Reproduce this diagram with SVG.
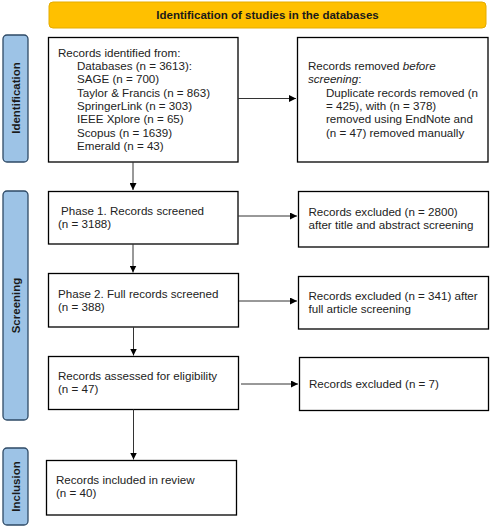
<svg xmlns="http://www.w3.org/2000/svg" width="491" height="527" viewBox="0 0 491 527">
<style>
.box{fill:#fff;stroke:#000;stroke-width:1.3}
.side{fill:#9DC3E6;stroke:#2E4A66;stroke-width:1.3}
.t{font-family:"Liberation Sans",Arial,sans-serif;font-size:11.6px;fill:#222}
.st{font-family:"Liberation Sans",Arial,sans-serif;font-size:11.5px;font-weight:bold;fill:#1a1a1a}
.conn{stroke:#333;stroke-width:1;fill:none;marker-end:url(#ah)}
</style>
<defs>
<marker id="ah" viewBox="0 0 10 10" refX="10" refY="5" markerWidth="7" markerHeight="7" markerUnits="userSpaceOnUse" orient="auto">
<path d="M0,0 L10,5 L0,10 z" fill="#000"/>
</marker>
</defs>
<rect width="491" height="527" fill="#fff"/>
<g id="banner">
<rect x="49" y="2" width="437" height="26" rx="4" fill="#FFC000" stroke="#E5AC00" stroke-width="1"/>
<text class="st" x="267.5" y="19" text-anchor="middle">Identification of studies in the databases</text>
</g>
<g id="side-identification">
<rect class="side" x="3" y="35" width="25" height="127" rx="4"/>
<text class="st" transform="translate(19.5,98) rotate(-90)" text-anchor="middle">Identification</text>
</g>
<g id="side-screening">
<rect class="side" x="3" y="191" width="25" height="229" rx="4"/>
<text class="st" transform="translate(19.5,305.5) rotate(-90)" text-anchor="middle">Screening</text>
</g>
<g id="side-inclusion">
<rect class="side" x="3" y="448" width="25" height="77" rx="4"/>
<text class="st" transform="translate(19.5,486.5) rotate(-90)" text-anchor="middle">Inclusion</text>
</g>
<g id="identified">
<rect class="box" x="48.5" y="37.5" width="189.5" height="124.5"/>
<text class="t" x="58" y="57">Records identified from:</text>
<text class="t" x="77" y="70">Databases (n = 3613):</text>
<text class="t" x="77" y="83.3">SAGE (n = 700)</text>
<text class="t" x="77" y="96.6">Taylor &amp; Francis (n = 863)</text>
<text class="t" x="77" y="109.9">SpringerLink (n = 303)</text>
<text class="t" x="77" y="123.2">IEEE Xplore (n = 65)</text>
<text class="t" x="77" y="136.5">Scopus (n = 1639)</text>
<text class="t" x="77" y="149.8">Emerald (n = 43)</text>
</g>
<g id="removed">
<rect class="box" x="297.5" y="37.5" width="190.5" height="124.5"/>
<text class="t" x="308" y="70">Records removed <tspan font-style="italic">before</tspan></text>
<text class="t" x="308" y="83.3"><tspan font-style="italic">screening</tspan>:</text>
<text class="t" x="326" y="96.6">Duplicate records removed (n</text>
<text class="t" x="326" y="109.9">= 425), with (n = 378)</text>
<text class="t" x="326" y="123.2">removed using EndNote and</text>
<text class="t" x="326" y="136.5">(n = 47) removed manually</text>
</g>
<g id="phase1">
<rect class="box" x="48.5" y="191.5" width="189.5" height="52.5"/>
<text class="t" x="61" y="214.5">Phase 1. Records screened</text>
<text class="t" x="58" y="227.5">(n = 3188)</text>
</g>
<g id="excl1">
<rect class="box" x="298.5" y="191.5" width="190" height="55.5"/>
<text class="t" x="308.5" y="216">Records excluded (n = 2800)</text>
<text class="t" x="308.5" y="229">after title and abstract screening</text>
</g>
<g id="phase2">
<rect class="box" x="48.5" y="273.5" width="190" height="53.5"/>
<text class="t" x="58" y="298">Phase 2. Full records screened</text>
<text class="t" x="58" y="311">(n = 388)</text>
</g>
<g id="excl2">
<rect class="box" x="298.5" y="276.5" width="190" height="52.5"/>
<text class="t" x="308.5" y="299.5">Records excluded (n = 341) after</text>
<text class="t" x="308.5" y="312.5">full article screening</text>
</g>
<g id="eligibility">
<rect class="box" x="48.5" y="356.5" width="190" height="53"/>
<text class="t" x="58" y="379.5">Records assessed for eligibility</text>
<text class="t" x="58" y="392.5">(n = 47)</text>
</g>
<g id="excl3">
<rect class="box" x="299.5" y="357.5" width="189" height="53"/>
<text class="t" x="309" y="387.5">Records excluded (n = 7)</text>
</g>
<g id="included">
<rect class="box" x="46.5" y="460.5" width="190" height="54.5"/>
<text class="t" x="56" y="483.5">Records included in review</text>
<text class="t" x="56" y="497">(n = 40)</text>
</g>
<g id="connectors">
<path class="conn" d="M238,98.5 H296"/>
<path class="conn" d="M133,162 V190"/>
<path class="conn" d="M238,216 H297"/>
<path class="conn" d="M133,244 V272.5"/>
<path class="conn" d="M239,301 H297"/>
<path class="conn" d="M133.5,327 V355.5"/>
<path class="conn" d="M241,384 H298"/>
<path class="conn" d="M133.5,409.5 V459.5"/>
</g>
</svg>
